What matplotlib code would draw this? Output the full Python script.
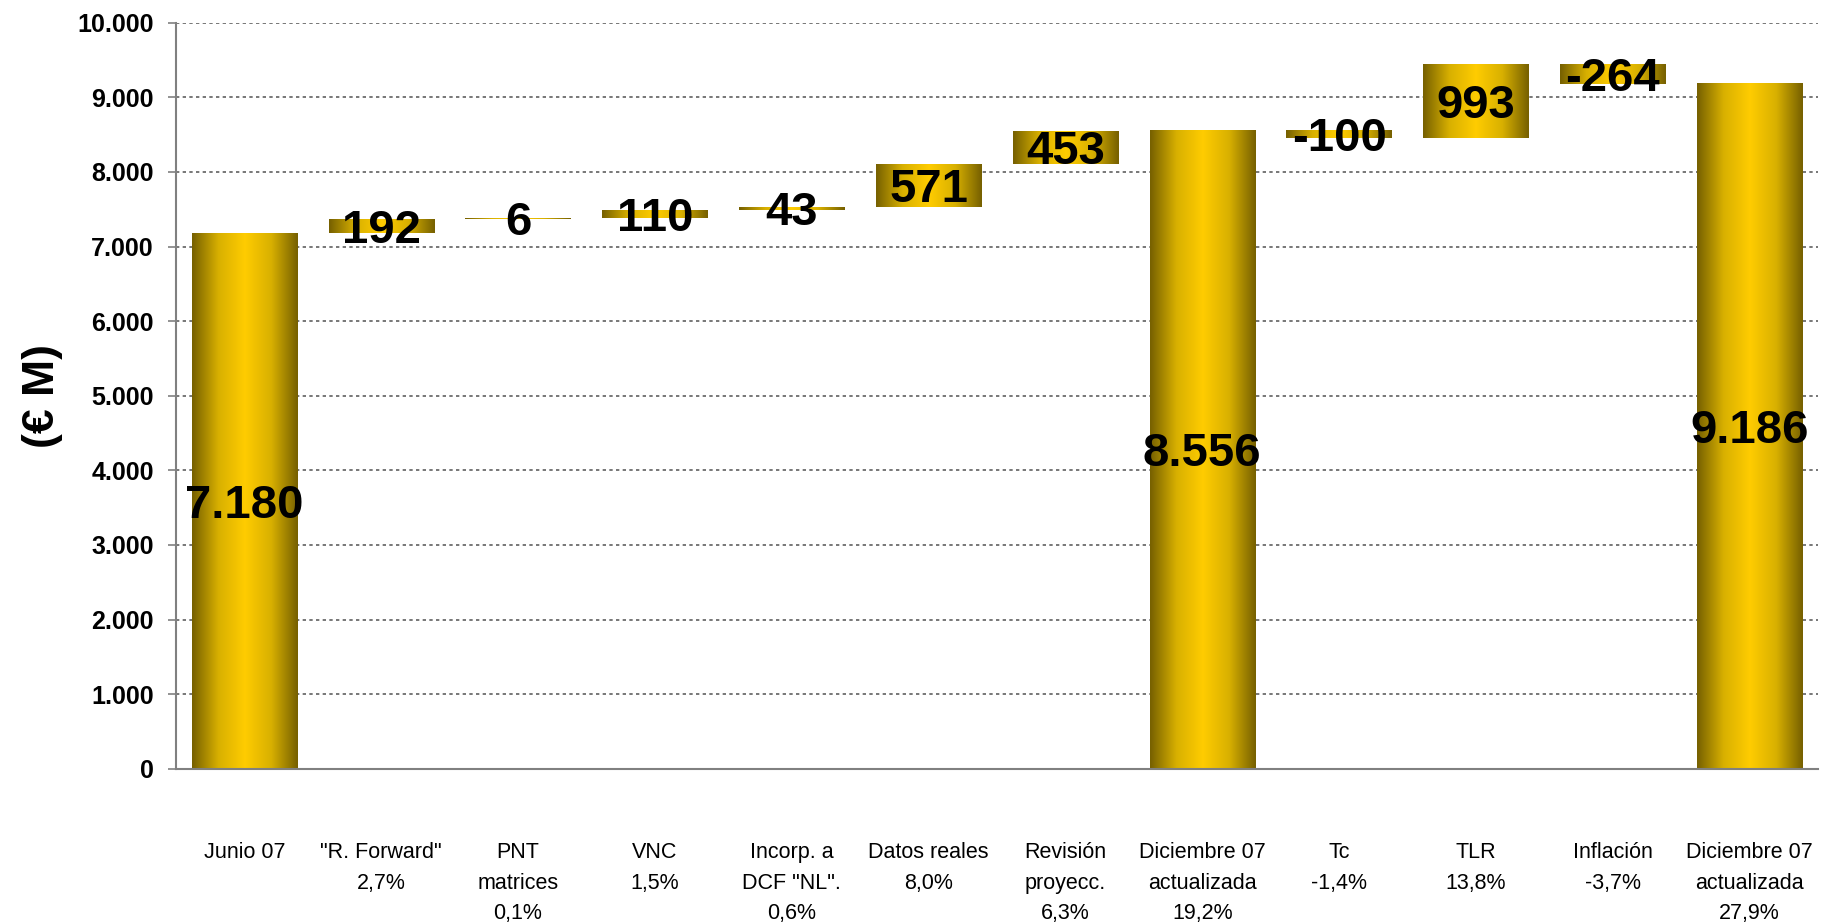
import numpy as np
import matplotlib
matplotlib.use('Agg')
import matplotlib.pyplot as plt
from matplotlib.colors import LinearSegmentedColormap

plt.rcParams['font.family'] = ['Liberation Sans', 'DejaVu Sans']

# datos del puente de valor
categorias = ['Junio 07', '"R. Forward"\n2,7%', 'PNT\nmatrices\n0,1%', 'VNC\n1,5%',
              'Incorp. a\nDCF "NL".\n0,6%', 'Datos reales\n8,0%', 'Revisión\nproyecc.\n6,3%',
              'Diciembre 07\nactualizada\n19,2%', 'Tc\n-1,4%', 'TLR\n13,8%',
              'Inflación\n-3,7%', 'Diciembre 07\nactualizada\n27,9%']
valores = [7180, 192, 6, 110, 43, 571, 453, 8556, -100, 993, -264, 9186]
tipo = ['total', 'delta', 'delta', 'delta', 'delta', 'delta', 'delta',
        'total', 'delta', 'delta', 'delta', 'total']
yticks = list(range(0, 10001, 1000))

# bases de cada barra (cascada)
bases = []
acum = 0
for v, t in zip(valores, tipo):
    if t == 'total':
        bases.append(0)
        acum = v
    else:
        bases.append(acum)
        acum = acum + v

def miles(v):
    return f'{v:,}'.replace(',', '.')

fig = plt.figure(figsize=(18.25, 9.24), dpi=100)
ax = fig.add_axes([0.0964, 0.168, 0.8998, 0.8074])
ax.set_axisbelow(True)

x = np.arange(len(valores))
barras = ax.bar(x, valores, bottom=bases, width=0.77, color='none', edgecolor='none', zorder=2)

cmap = LinearSegmentedColormap.from_list('oro', ['#766000', '#d8b000', '#ffcc00', '#d8b000', '#766000'])
grad = np.linspace(0, 1, 256).reshape(1, -1)
for p in barras.patches:
    x0, y0 = p.get_x(), p.get_y()
    w, h = p.get_width(), p.get_height()
    im = ax.imshow(grad, cmap=cmap, aspect='auto', extent=(x0, x0 + w, y0, y0 + h),
                   interpolation='bicubic', zorder=2)
    im.set_clip_path(p)

for xi, v, b, t in zip(x, valores, bases, tipo):
    txt = miles(v) if t == 'total' else str(v)
    ax.annotate(txt, (xi, b + v / 2), xytext=(0, -3.5), textcoords='offset points',
                ha='center', va='center', fontsize=34, fontweight='bold',
                color='black', zorder=3)

ax.set_xlim(-0.5, len(valores) - 0.5)
ax.set_ylim(0, 10000)
ax.set_yticks(yticks)
ax.set_yticklabels([miles(v) for v in yticks], fontsize=18, fontweight='bold')
ax.set_xticks(x)
ax.set_xticklabels(categorias, fontsize=15.5, linespacing=1.58)
ax.tick_params(axis='x', length=0, pad=53)
ax.tick_params(axis='y', length=6, width=1.2, color='#808080', pad=10)

ax.yaxis.grid(True, color='#606060', linestyle=(0, (2, 2)), linewidth=1.2)
for s in ['top', 'right']:
    ax.spines[s].set_visible(False)
for s in ['left', 'bottom']:
    ax.spines[s].set_color('#808080')
    ax.spines[s].set_linewidth(1.5)

fig.text(0.0235, 0.571, '(€ M)', rotation=90, ha='center', va='center',
         fontsize=32, fontweight='bold')

fig.savefig('out.png', dpi=100)
